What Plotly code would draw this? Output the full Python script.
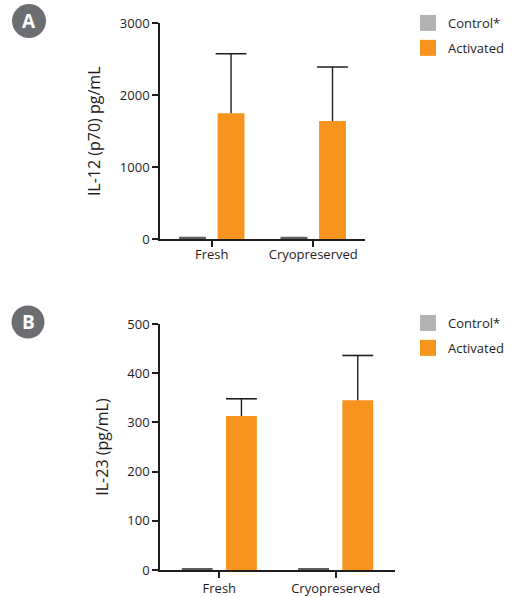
import plotly.graph_objects as go

categories = ["Fresh", "Cryopreserved"]

# Panel A: IL-12 (p70) pg/mL
il12_control = [35, 35]
il12_activated = [1750, 1643]
il12_activated_err = [828, 750]

# Panel B: IL-23 (pg/mL)
il23_control = [3, 3]
il23_activated = [313, 345]
il23_activated_err = [35, 91]

legend_names = ["Control*", "Activated"]
y_ticks_a = [0, 1000, 2000, 3000]
y_ticks_b = [0, 100, 200, 300, 400, 500]

GRAY = "#b3b3b3"
GRAY_DARK = "#5d5e60"
ORANGE = "#f7941d"
TEXT = "#1f1c1d"
FONT = "Open Sans"

W, H = 512, 597
OFF = 0.19      # bar offset from category centre (axis units)
BW = 0.265      # bar width (axis units)

fig = go.Figure()
idx = list(range(len(categories)))


def add_panel(xa, ya, control, activated, err, legend):
    fig.add_trace(go.Bar(
        x=[i - OFF for i in idx], y=control, width=BW, xaxis=xa, yaxis=ya,
        marker=dict(color=GRAY_DARK, line=dict(width=0)),
        showlegend=False, name=legend_names[0],
    ))
    fig.add_trace(go.Bar(
        x=[i + OFF for i in idx], y=activated, width=BW, xaxis=xa, yaxis=ya,
        marker=dict(color=ORANGE, line=dict(width=0)),
        showlegend=False, name=legend_names[1],
    ))
    # error bars: stem from bar top up to mean+SD, cap drawn as a line marker
    tops = [a + e for a, e in zip(activated, err)]
    fig.add_trace(go.Scatter(
        x=[i + OFF for i in idx], y=tops, xaxis=xa, yaxis=ya, mode="markers",
        marker=dict(symbol="line-ew", size=22, color=TEXT,
                    line=dict(color=TEXT, width=1.6)),
        error_y=dict(type="data", array=[0] * len(err), arrayminus=err,
                     symmetric=False, color=TEXT, thickness=1.4, width=0),
        showlegend=False, hoverinfo="skip",
    ))
    # legend entries (empty data)
    for nm, col, grp in [(legend_names[0], GRAY, "c"), (legend_names[1], ORANGE, "a")]:
        fig.add_trace(go.Scatter(
            x=[None], y=[None], xaxis=xa, yaxis=ya, mode="markers",
            marker=dict(symbol="square", size=17, color=col),
            name=nm, legend=legend, legendgroup=grp, showlegend=True,
        ))


add_panel("x", "y", il12_control, il12_activated, il12_activated_err, "legend")
add_panel("x2", "y2", il23_control, il23_activated, il23_activated_err, "legend2")


def px_x(p):
    return p / W


def px_y(p):
    return 1 - p / H


axis_common = dict(
    showline=True, linecolor=TEXT, linewidth=1.6,
    ticks="outside", ticklen=6, tickwidth=1.6, tickcolor=TEXT,
    showgrid=False, zeroline=False, automargin=False,
    tickfont=dict(family=FONT, size=13, color=TEXT),
)

fig.update_layout(
    width=W, height=H,
    margin=dict(l=0, r=0, t=0, b=0, pad=0, autoexpand=False),
    paper_bgcolor="white", plot_bgcolor="white",
    barmode="overlay",
    font=dict(family=FONT, color=TEXT),
    xaxis=dict(domain=[px_x(160), px_x(365)], anchor="y",
               range=[-0.51, 1.51], tickvals=idx, ticktext=categories,
               ticklabelstandoff=-4, **axis_common),
    yaxis=dict(domain=[px_y(239.3), px_y(23.3)], anchor="x", range=[0, 3000],
               tickvals=y_ticks_a,
               title=dict(text="IL-12 (p70) pg/mL", standoff=15,
                          font=dict(family=FONT, size=16, color=TEXT)),
               **axis_common),
    xaxis2=dict(domain=[px_x(160), px_x(395)], anchor="y2",
                range=[-0.51, 1.51], tickvals=idx, ticktext=categories,
                ticklabelstandoff=0, **axis_common),
    yaxis2=dict(domain=[px_y(570), px_y(324)], anchor="x2", range=[0, 500],
                tickvals=y_ticks_b,
                title=dict(text="IL-23 (pg/mL)", standoff=15,
                           font=dict(family=FONT, size=16, color=TEXT)),
                **axis_common),
    legend=dict(x=px_x(408), y=px_y(8), xanchor="left", yanchor="top",
                font=dict(family=FONT, size=13, color=TEXT),
                bgcolor="rgba(0,0,0,0)", traceorder="grouped", tracegroupgap=5,
                itemsizing="trace"),
    legend2=dict(x=px_x(408), y=px_y(308), xanchor="left", yanchor="top",
                 font=dict(family=FONT, size=13, color=TEXT),
                 bgcolor="rgba(0,0,0,0)", traceorder="grouped", tracegroupgap=5,
                 itemsizing="trace"),
)

# Panel label badges
for letter, cx, cy, r in [("A", 29, 21, 17), ("B", 28, 322, 16.5)]:
    fig.add_shape(type="circle", xref="paper", yref="paper",
                  x0=px_x(cx - r), x1=px_x(cx + r), y0=px_y(cy + r), y1=px_y(cy - r),
                  fillcolor="#6d6e71", line=dict(width=0), layer="above")
    fig.add_annotation(text="<b>%s</b>" % letter, xref="paper", yref="paper",
                       x=px_x(cx), y=px_y(cy), showarrow=False,
                       font=dict(family=FONT, size=19, color="white"),
                       xanchor="center", yanchor="middle")

fig.write_html("out.html", config={"displayModeBar": False},
               post_script="document.body.style.margin='0';document.body.style.overflow='hidden';")
